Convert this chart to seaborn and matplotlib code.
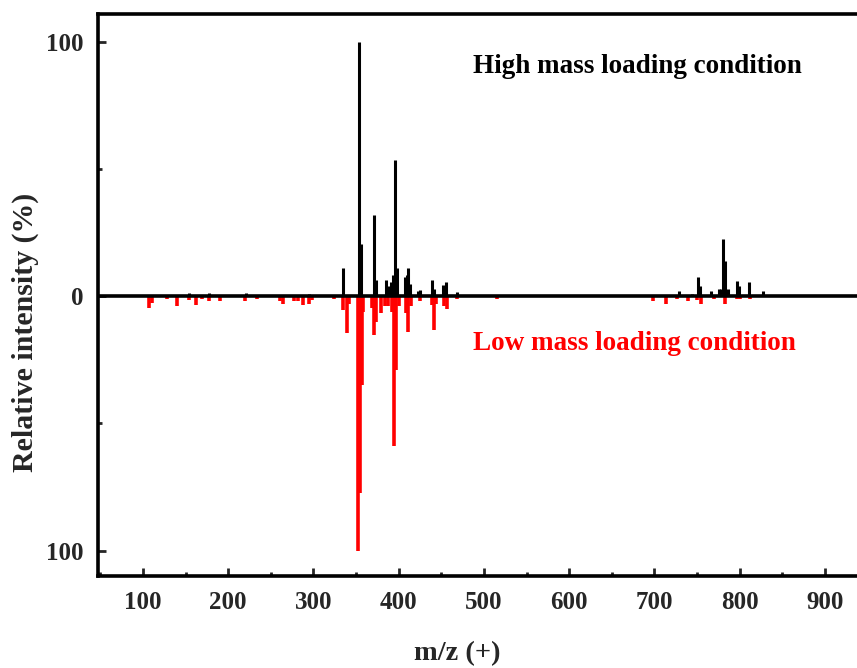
import numpy as np
import pandas as pd
import matplotlib
matplotlib.use("Agg")
from matplotlib import pyplot as plt
from matplotlib.ticker import MultipleLocator, FuncFormatter
import seaborn as sns

# high mass loading (plotted upward)
high_mz = [154, 177, 221, 295, 335, 353.5, 356, 371, 373, 385, 388, 391, 393,
           395.8, 397.7, 407.5, 409.5, 411.4, 413, 423, 425, 439.6, 441.5,
           451.5, 455.6, 468, 729, 744, 750.6, 753.8, 766.3, 775.3, 778,
           780.4, 783, 786, 796.8, 799, 810.5, 827.3]
high_int = [1.3, 1.3, 1.3, 1.0, 11, 100, 20.7, 32, 6.3, 6.3, 4, 5.8, 8.2,
            53.4, 11, 7.6, 8.2, 11.3, 5, 2, 2.5, 6.5, 3, 4.5, 5.5, 1.5, 2, 1,
            7.6, 4, 2, 3, 3, 22.6, 14, 3, 6, 4, 5.7, 2]

# low mass loading (plotted downward)
low_mz = [107.4, 110, 128.5, 139.5, 154, 162.2, 169, 178, 190.4, 220, 233.5,
          260.8, 264.7, 277.2, 282, 287.4, 295.2, 298, 324, 335, 339, 341.8,
          352, 354.7, 356.7, 358.5, 368.4, 371, 373.4, 379.3, 384, 388, 392,
          394.6, 397, 400, 408.7, 411.4, 414, 425, 439, 441.5, 444, 453.3,
          457.2, 468, 515.5, 698, 713.8, 726, 738.9, 750, 754.5, 770, 783,
          796.6, 800, 812]
low_int = [4.8, 2.6, 1, 4, 1.5, 3.5, 1, 2, 2, 2, 1, 2, 3, 2, 2, 3.5, 3, 1.5,
           1, 5.5, 14.4, 3, 100, 77.5, 35, 6, 4.5, 15.3, 10, 6.4, 4, 4, 6,
           59, 29, 4, 6.4, 14, 4, 2, 3.5, 13.3, 3, 4, 5, 1, 1, 2, 3, 1, 1.8,
           1.5, 3, 1, 3, 1, 1, 1]

high_df = pd.DataFrame({"mz": high_mz, "intensity": high_int})
low_df = pd.DataFrame({"mz": low_mz, "intensity": low_int})

sns.set_theme(style="ticks")
plt.rcParams["font.family"] = ["Liberation Serif", "DejaVu Serif"]
plt.rcParams["font.weight"] = "bold"

fig = plt.figure(figsize=(8.57, 6.68), dpi=100)
ax = fig.add_axes([97.8 / 857, 92 / 668, 769.8 / 857, 562 / 668])

ax.vlines(low_df["mz"], 0, -low_df["intensity"], color="#ff0000", lw=2.6)
ax.vlines(high_df["mz"], 0, high_df["intensity"], color="black", lw=2.2)
ax.axhline(0, color="black", lw=2.6)

ax.set_xlim(47, 950)
ax.set_ylim(-110, 111)

ax.xaxis.set_major_locator(MultipleLocator(100))
ax.xaxis.set_minor_locator(MultipleLocator(50))
ax.yaxis.set_major_locator(MultipleLocator(100))
ax.yaxis.set_minor_locator(MultipleLocator(50))
ax.yaxis.set_major_formatter(FuncFormatter(lambda v, p: "%d" % abs(v)))
ax.tick_params(which="both", direction="in", width=2, labelsize=18)
ax.tick_params(which="major", length=6)
ax.tick_params(which="minor", length=3)
ax.tick_params(axis="x", pad=11)
ax.tick_params(axis="y", pad=10)
for lab in ax.get_xticklabels() + ax.get_yticklabels():
    lab.set_fontweight("bold")

for side in ["left", "bottom", "top", "right"]:
    ax.spines[side].set_linewidth(2.6)
    ax.spines[side].set_color("black")

ax.set_ylabel("Relative intensity (%)", fontsize=21.5, fontweight="bold")
ax.yaxis.set_label_coords(-0.0764, 0.434)
ax.set_xlabel("m/z (+)", fontsize=20.5, fontweight="bold")
ax.xaxis.set_label_coords(0.4666, -0.1157)

ax.text(0.4874, 0.895, "High mass loading condition", transform=ax.transAxes,
        fontsize=19.5, fontweight="bold", color="black", ha="left", va="baseline")
ax.text(0.4874, 0.402, "Low mass loading condition", transform=ax.transAxes,
        fontsize=19.5, fontweight="bold", color="#ff0000", ha="left", va="baseline")

plt.savefig("out.png", dpi=100)
